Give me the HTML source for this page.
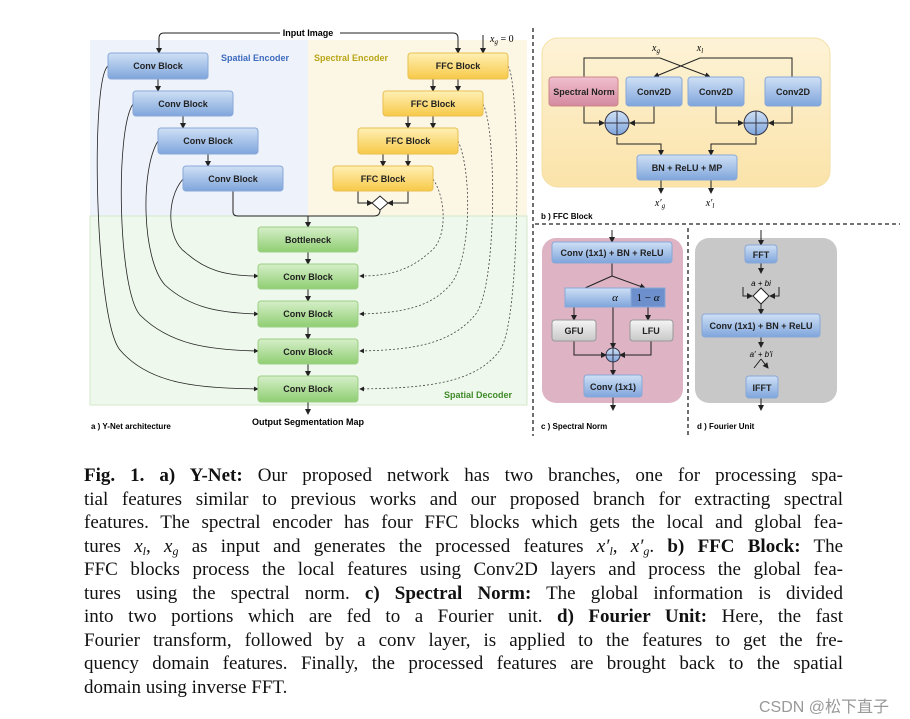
<!DOCTYPE html>
<html><head><meta charset="utf-8"><style>
body{margin:0;background:#fff;width:910px;height:719px;overflow:hidden;position:relative;font-family:"Liberation Sans",sans-serif}
svg{position:absolute;left:0;top:0}
.cap{position:absolute;left:84px;top:464px;width:759px;font-family:"Liberation Serif",serif;font-size:19px;color:#111}
.cap div{height:23.5px;line-height:23.5px;text-align:justify;text-align-last:justify;white-space:nowrap;overflow:visible}
.cap div.l{text-align-last:left}
.cap sub{font-size:12px;line-height:0;vertical-align:-3px}
i{font-style:italic}
.wm{position:absolute;left:759px;top:693px;font-size:16px;color:#999;font-family:"Liberation Sans","Noto Sans CJK SC",sans-serif}
</style></head><body>
<svg width="910" height="460" viewBox="0 0 910 460" font-family="Liberation Sans, sans-serif">
<defs>
<linearGradient id="gb" x1="0" y1="0" x2="0" y2="1"><stop offset="0" stop-color="#cfe0f5"/><stop offset="1" stop-color="#7fa5dc"/></linearGradient>
<linearGradient id="gy" x1="0" y1="0" x2="0" y2="1"><stop offset="0" stop-color="#fff0b5"/><stop offset="1" stop-color="#f7c948"/></linearGradient>
<linearGradient id="gg" x1="0" y1="0" x2="0" y2="1"><stop offset="0" stop-color="#d6efc9"/><stop offset="1" stop-color="#8fce72"/></linearGradient>
<linearGradient id="gp" x1="0" y1="0" x2="0" y2="1"><stop offset="0" stop-color="#f0c0cf"/><stop offset="1" stop-color="#d4899f"/></linearGradient>
<linearGradient id="gw" x1="0" y1="0" x2="0" y2="1"><stop offset="0" stop-color="#f5f5f5"/><stop offset="1" stop-color="#c8c8c8"/></linearGradient>
<linearGradient id="gfb" x1="0" y1="0" x2="0" y2="1"><stop offset="0" stop-color="#fdf3d7"/><stop offset="1" stop-color="#fbe3a9"/></linearGradient>
<marker id="a" markerWidth="6" markerHeight="6" refX="5" refY="3" orient="auto"><path d="M0,0 L6,3 L0,6 z" fill="#222"/></marker>
</defs>
<rect x="90" y="40" width="218" height="176" fill="#eef2fa"/>
<rect x="308" y="40" width="219" height="176" fill="#fcf6e5"/>
<rect x="90" y="216" width="437" height="189" fill="#eff8ec" stroke="#d3e8cb"/>
<text x="221" y="61" font-size="9" font-weight="bold" fill="#3d6bbf">Spatial Encoder</text>
<text x="314" y="61" font-size="9" font-weight="bold" fill="#b9a616">Spectral Encoder</text>
<text x="444" y="398" font-size="9" font-weight="bold" fill="#3f8a2a">Spatial Decoder</text>
<path d="M280,33 H164 Q159,33 159,38 V53" fill="none" stroke="#222" marker-end="url(#a)"/>
<path d="M340,33 H453 Q458,33 458,38 V53" fill="none" stroke="#222" marker-end="url(#a)"/>
<text x="308" y="36" font-size="9" font-weight="bold" text-anchor="middle">Input Image</text>
<path d="M483,35 V53" stroke="#222" marker-end="url(#a)"/>
<text x="490" y="42" font-size="10" font-style="italic" font-family="Liberation Serif,serif">x<tspan font-size="7" dy="2">g</tspan><tspan dy="-2" font-style="normal"> = 0</tspan></text>
<g fill="none" stroke="#222" stroke-width="0.8">
<path d="M108,66 C90,80 95,320 120,350 C150,385 200,388 258,389" marker-end="url(#a)"/>
<path d="M133,104 C115,130 118,290 140,315 C170,345 210,350 258,351" marker-end="url(#a)"/>
<path d="M158,141 C140,170 142,260 165,285 C190,308 220,313 258,314" marker-end="url(#a)"/>
<path d="M183,179 C165,200 168,240 185,252 C205,270 225,276 258,276" marker-end="url(#a)"/>
</g>
<g fill="none" stroke="#444" stroke-width="0.8" stroke-dasharray="2,2">
<path d="M508,66 C520,80 522,320 500,350 C475,385 420,388 360,389" marker-end="url(#a)"/>
<path d="M483,104 C497,130 497,290 475,315 C450,345 410,350 360,351" marker-end="url(#a)"/>
<path d="M458,141 C472,170 472,260 450,285 C430,308 400,313 360,314" marker-end="url(#a)"/>
<path d="M433,179 C447,200 447,240 430,252 C410,270 390,276 360,276" marker-end="url(#a)"/>
</g>
<g stroke="#222" fill="none">
<path d="M158,79 V91" marker-end="url(#a)"/><path d="M183,116 V128" marker-end="url(#a)"/><path d="M208,154 V166" marker-end="url(#a)"/>
<path d="M433,79 V91" marker-end="url(#a)"/><path d="M458,79 V91" marker-end="url(#a)"/>
<path d="M408,116 V128" marker-end="url(#a)"/><path d="M433,116 V128" marker-end="url(#a)"/>
<path d="M383,154 V166" marker-end="url(#a)"/><path d="M408,154 V166" marker-end="url(#a)"/>
<path d="M358,191 V203 H372" marker-end="url(#a)"/><path d="M408,191 V203 H388" marker-end="url(#a)"/>
<path d="M233,191 V212 Q233,216 238,216 H308 V227" marker-end="url(#a)"/>
<path d="M380,210 Q380,216 374,216 H308"/>
<path d="M308,252 V264" marker-end="url(#a)"/><path d="M308,289 V301" marker-end="url(#a)"/><path d="M308,327 V339" marker-end="url(#a)"/><path d="M308,364 V376" marker-end="url(#a)"/><path d="M308,402 V414" marker-end="url(#a)"/>
</g>
<path d="M380,196 L388,203 L380,210 L372,203 Z" fill="#fff" stroke="#222"/>
<g font-size="9" font-weight="bold" text-anchor="middle" fill="#222">
<rect x="108" y="53" width="100" height="26" rx="3" fill="url(#gb)" stroke="#88a8d8"/><text x="158" y="69">Conv Block</text>
<rect x="133" y="91" width="100" height="25" rx="3" fill="url(#gb)" stroke="#88a8d8"/><text x="183" y="107">Conv Block</text>
<rect x="158" y="128" width="100" height="26" rx="3" fill="url(#gb)" stroke="#88a8d8"/><text x="208" y="144">Conv Block</text>
<rect x="183" y="166" width="100" height="25" rx="3" fill="url(#gb)" stroke="#88a8d8"/><text x="233" y="182">Conv Block</text>
<rect x="408" y="53" width="100" height="26" rx="3" fill="url(#gy)" stroke="#e8c050"/><text x="458" y="69">FFC Block</text>
<rect x="383" y="91" width="100" height="25" rx="3" fill="url(#gy)" stroke="#e8c050"/><text x="433" y="107">FFC Block</text>
<rect x="358" y="128" width="100" height="26" rx="3" fill="url(#gy)" stroke="#e8c050"/><text x="408" y="144">FFC Block</text>
<rect x="333" y="166" width="100" height="25" rx="3" fill="url(#gy)" stroke="#e8c050"/><text x="383" y="182">FFC Block</text>
<rect x="258" y="227" width="100" height="25" rx="3" fill="url(#gg)" stroke="#9bcf86"/><text x="308" y="243">Bottleneck</text>
<rect x="258" y="264" width="100" height="25" rx="3" fill="url(#gg)" stroke="#9bcf86"/><text x="308" y="280">Conv Block</text>
<rect x="258" y="301" width="100" height="26" rx="3" fill="url(#gg)" stroke="#9bcf86"/><text x="308" y="317">Conv Block</text>
<rect x="258" y="339" width="100" height="25" rx="3" fill="url(#gg)" stroke="#9bcf86"/><text x="308" y="355">Conv Block</text>
<rect x="258" y="376" width="100" height="26" rx="3" fill="url(#gg)" stroke="#9bcf86"/><text x="308" y="392">Conv Block</text>
</g>
<text x="308" y="425" font-size="9" font-weight="bold" text-anchor="middle">Output Segmentation Map</text>
<text x="91" y="429" font-size="8" font-weight="bold">a ) Y-Net architecture</text>
<path d="M533,28 V436" stroke="#222" stroke-width="1.3" stroke-dasharray="4,3"/>
<path d="M535,224 H900" stroke="#222" stroke-width="1.3" stroke-dasharray="4,3"/>
<path d="M688,228 V436" stroke="#222" stroke-width="1.3" stroke-dasharray="4,3"/>
<rect x="542" y="38" width="288" height="149" rx="16" fill="url(#gfb)" stroke="#f3dfa5"/>
<text x="656" y="51" font-size="10" font-style="italic" font-family="Liberation Serif,serif" text-anchor="middle">x<tspan font-size="7" dy="2">g</tspan></text>
<text x="700" y="51" font-size="10" font-style="italic" font-family="Liberation Serif,serif" text-anchor="middle">x<tspan font-size="7" dy="2">l</tspan></text>
<g stroke="#222" fill="none">
<path d="M584,77 V58 H660 L710,77" marker-end="url(#a)"/>
<path d="M792,77 V58 H700 L654,77" marker-end="url(#a)"/>
<path d="M584,106 V123 H604" marker-end="url(#a)"/><path d="M654,106 V123 H630" marker-end="url(#a)"/>
<path d="M716,106 V123 H743" marker-end="url(#a)"/><path d="M792,106 V123 H769" marker-end="url(#a)"/>
<path d="M617,137 V144 H661 V155" marker-end="url(#a)"/><path d="M756,137 V144 H711 V155" marker-end="url(#a)"/>
<path d="M661,180 V193" marker-end="url(#a)"/><path d="M711,180 V193" marker-end="url(#a)"/>
</g>
<g fill="url(#gb)" stroke="#334">
<circle cx="617" cy="123" r="12"/><circle cx="756" cy="123" r="12"/></g>
<path d="M605,123 H629 M617,111 V135 M744,123 H768 M756,111 V135" stroke="#334"/>
<g font-size="9" font-weight="bold" text-anchor="middle" fill="#222">
<rect x="549" y="77" width="69" height="29" rx="3" fill="url(#gp)" stroke="#c88"/><text x="584" y="95">Spectral Norm</text>
<rect x="626" y="77" width="56" height="29" rx="3" fill="url(#gb)" stroke="#88a8d8"/><text x="654" y="95">Conv2D</text>
<rect x="688" y="77" width="56" height="29" rx="3" fill="url(#gb)" stroke="#88a8d8"/><text x="716" y="95">Conv2D</text>
<rect x="765" y="77" width="56" height="29" rx="3" fill="url(#gb)" stroke="#88a8d8"/><text x="793" y="95">Conv2D</text>
<rect x="637" y="155" width="100" height="25" rx="3" fill="url(#gb)" stroke="#88a8d8"/><text x="687" y="171">BN + ReLU + MP</text>
</g>
<text x="660" y="206" font-size="10" font-style="italic" font-family="Liberation Serif,serif" text-anchor="middle">x′<tspan font-size="7" dy="2">g</tspan></text>
<text x="710" y="206" font-size="10" font-style="italic" font-family="Liberation Serif,serif" text-anchor="middle">x′<tspan font-size="7" dy="2">l</tspan></text>
<text x="541" y="219" font-size="8" font-weight="bold">b ) FFC Block</text>
<rect x="542" y="238" width="141" height="165" rx="14" fill="#deb3c3"/>
<g stroke="#222" fill="none">
<path d="M612,230 V242" marker-end="url(#a)"/>
<path d="M612,263 V276 L585,288 M612,276 L645,288" marker-end="url(#a)"/>
<path d="M574,307 V320" marker-end="url(#a)"/><path d="M648,307 V320" marker-end="url(#a)"/>
<path d="M613,307 V348" marker-end="url(#a)"/>
<path d="M574,341 V355 H606" marker-end="url(#a)"/><path d="M651,341 V355 H620" marker-end="url(#a)"/>
<path d="M613,362 V375" marker-end="url(#a)"/><path d="M613,397 V410" marker-end="url(#a)"/>
</g>
<rect x="565" y="288" width="66" height="19" fill="url(#gb)" stroke="#88a8d8"/>
<rect x="631" y="288" width="34" height="19" fill="#6d90cc" stroke="#88a8d8"/>
<text x="615" y="301" font-size="11" font-style="italic" font-family="Liberation Serif,serif" text-anchor="middle">α</text>
<text x="648" y="301" font-size="11" font-family="Liberation Serif,serif" text-anchor="middle">1 − <tspan font-style="italic">α</tspan></text>
<circle cx="613" cy="355" r="7" fill="url(#gb)" stroke="#334"/><path d="M606,355 H620 M613,348 V362" stroke="#334"/>
<g font-size="9" font-weight="bold" text-anchor="middle" fill="#222">
<rect x="552" y="242" width="120" height="21" rx="3" fill="url(#gb)" stroke="#88a8d8"/><text x="612" y="256">Conv (1x1) + BN + ReLU</text>
<rect x="552" y="320" width="44" height="21" rx="3" fill="url(#gw)" stroke="#999"/><text x="574" y="334">GFU</text>
<rect x="630" y="320" width="43" height="21" rx="3" fill="url(#gw)" stroke="#999"/><text x="651" y="334">LFU</text>
<rect x="584" y="375" width="58" height="22" rx="3" fill="url(#gb)" stroke="#88a8d8"/><text x="613" y="390">Conv (1x1)</text>
</g>
<text x="541" y="429" font-size="8" font-weight="bold">c ) Spectral Norm</text>
<rect x="695" y="238" width="142" height="165" rx="14" fill="#c9c8c8"/>
<g stroke="#222" fill="none">
<path d="M761,230 V245" marker-end="url(#a)"/><path d="M761,263 V273" marker-end="url(#a)"/>
<path d="M743,287 V296 H752" marker-end="url(#a)"/><path d="M779,287 V296 H770" marker-end="url(#a)"/>
<path d="M761,304 V314" marker-end="url(#a)"/><path d="M761,337 V347" marker-end="url(#a)"/>
<path d="M761,359 L754,368 M761,359 L768,368" marker-end="url(#a)"/>
<path d="M761,398 V410" marker-end="url(#a)"/>
</g>
<path d="M761,288 L769,296 L761,304 L753,296 Z" fill="#fff" stroke="#222"/>
<text x="761" y="286" font-size="8" font-style="italic" text-anchor="middle">a + bi</text>
<text x="761" y="357" font-size="8" font-style="italic" text-anchor="middle">a′ + b′i</text>
<g font-size="9" font-weight="bold" text-anchor="middle" fill="#222">
<rect x="745" y="245" width="32" height="18" rx="3" fill="url(#gb)" stroke="#88a8d8"/><text x="761" y="258">FFT</text>
<rect x="702" y="314" width="118" height="23" rx="3" fill="url(#gb)" stroke="#88a8d8"/><text x="761" y="329">Conv (1x1) + BN + ReLU</text>
<rect x="746" y="376" width="32" height="22" rx="3" fill="url(#gb)" stroke="#88a8d8"/><text x="762" y="391">IFFT</text>
</g>
<text x="697" y="429" font-size="8" font-weight="bold">d ) Fourier Unit</text>
</svg>
<div class="cap">
<div><b>Fig. 1. a) Y-Net:</b> Our proposed network has two branches, one for processing spa-</div>
<div>tial features similar to previous works and our proposed branch for extracting spectral</div>
<div>features. The spectral encoder has four FFC blocks which gets the local and global fea-</div>
<div>tures <i>x<sub>l</sub></i>, <i>x<sub>g</sub></i> as input and generates the processed features <i>x′<sub>l</sub></i>, <i>x′<sub>g</sub></i>. <b>b) FFC Block:</b> The</div>
<div>FFC blocks process the local features using Conv2D layers and process the global fea-</div>
<div>tures using the spectral norm. <b>c) Spectral Norm:</b> The global information is divided</div>
<div>into two portions which are fed to a Fourier unit. <b>d) Fourier Unit:</b> Here, the fast</div>
<div>Fourier transform, followed by a conv layer, is applied to the features to get the fre-</div>
<div>quency domain features. Finally, the processed features are brought back to the spatial</div>
<div class="l">domain using inverse FFT.</div>
</div>
<div class="wm">CSDN @松下直子</div>
</body></html>
